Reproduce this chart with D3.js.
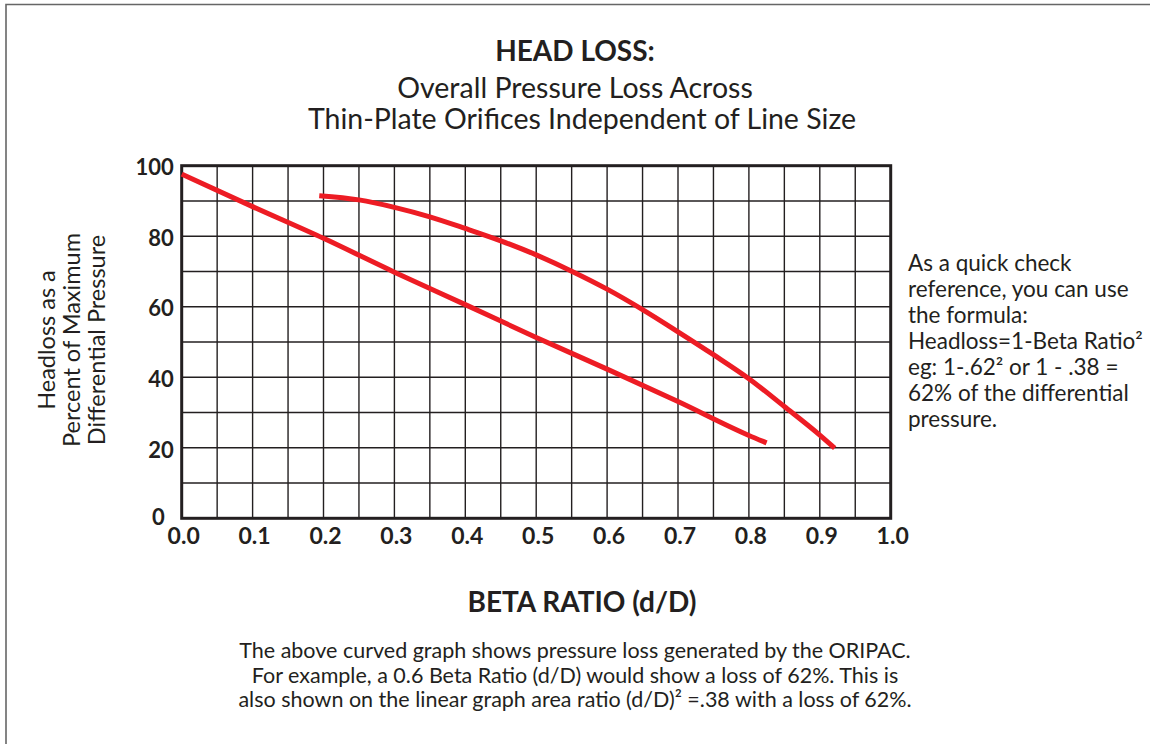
<!DOCTYPE html>
<html><head><meta charset="utf-8">
<script src="https://cdn.jsdelivr.net/npm/d3@7"></script>
<style>
html,body{margin:0;padding:0;background:#fff;}
svg{display:block;font-family:Lato, "Open Sans", sans-serif;}
</style></head>
<body>
<svg id="chart" width="1150" height="744"></svg>
<script>
// ---- data ----
const titleLines = ["HEAD LOSS:", "Overall Pressure Loss Across", "Thin-Plate Orifices Independent of Line Size"];
const xTicks = [0, 0.1, 0.2, 0.3, 0.4, 0.5, 0.6, 0.7, 0.8, 0.9, 1.0];
const yTicks = [0, 20, 40, 60, 80, 100];
const linearBeta = [0, 0.1, 0.2, 0.3, 0.4, 0.5, 0.6, 0.7, 0.8, 0.825];
const linearLoss = [97.6, 88.4, 79.4, 69.8, 60.6, 51.3, 42.3, 33.1, 23.5, 21.4];
const curveBeta = [0.194, 0.25, 0.3, 0.35, 0.4, 0.45, 0.5, 0.55, 0.6, 0.65, 0.7, 0.75, 0.8, 0.85, 0.9, 0.921];
const curveLoss = [91.5, 90.3, 88.2, 85.5, 82.2, 78.7, 74.7, 70.1, 65.0, 59.2, 52.9, 46.4, 39.6, 31.7, 23.6, 19.9];
const yLabelLines = ["Headloss as a", "Percent of Maximum", "Differential Pressure"];
const xLabel = "BETA RATIO (d/D)";
const noteLines = ["As a quick check", "reference, you can use", "the formula:", "Headloss=1-Beta Ratio\u00B2", "eg: 1-.62\u00B2 or 1 - .38 =", "62% of the differential", "pressure."];
const footLines = ["The above curved graph shows pressure loss generated by the ORIPAC.",
  "For example, a 0.6 Beta Ratio (d/D) would show a loss of 62%. This is",
  "also shown on the linear graph area ratio (d/D)\u00B2 =.38 with a loss of 62%."];

// ---- layout ----
const svg = d3.select("#chart");
const ink = "#231f20";
const red = "#ed1c24";
const plot = {left: 181.7, right: 890.7, top: 165.7, bottom: 518.3};

// outer frame
svg.append("path").attr("d", "M6,744 L6,4.5 L1150,4.5")
  .attr("fill", "none").attr("stroke", "#666").attr("stroke-width", 1.6);

const x = d3.scaleLinear().domain([0, 1]).range([plot.left, plot.right]);
const y = d3.scaleLinear().domain([0, 100]).range([plot.bottom, plot.top]);

// title
const title = svg.append("g").attr("text-anchor", "middle").attr("fill", ink);
title.append("text").attr("x", 575).attr("y", 61).attr("font-weight", 700).attr("font-size", 28).text(titleLines[0]);
title.append("text").attr("x", 575).attr("y", 98).attr("font-size", 28.5).text(titleLines[1]);
title.append("text").attr("x", 582).attr("y", 129).attr("font-size", 28.5).text(titleLines[2]);

// grid
const gridX = d3.range(0, 21).map(i => i * 0.05);
const gridY = d3.range(0, 11).map(i => i * 10);
const grid = svg.append("g").attr("stroke", ink).attr("stroke-width", 1.4);
grid.selectAll("line.v").data(gridX).join("line").attr("class", "v")
  .attr("x1", d => x(d)).attr("x2", d => x(d)).attr("y1", plot.top).attr("y2", plot.bottom);
grid.selectAll("line.h").data(gridY).join("line").attr("class", "h")
  .attr("y1", d => y(d)).attr("y2", d => y(d)).attr("x1", plot.left).attr("x2", plot.right);

// border
svg.append("rect").attr("x", plot.left).attr("y", plot.top)
  .attr("width", plot.right - plot.left).attr("height", plot.bottom - plot.top)
  .attr("fill", "none").attr("stroke", ink).attr("stroke-width", 3);

// axes
const xAxis = svg.append("g").attr("transform", `translate(0,${plot.bottom})`)
  .call(d3.axisBottom(x).tickValues(xTicks).tickFormat(d3.format(".1f")).tickSize(0).tickPadding(9));
xAxis.select(".domain").remove();
xAxis.selectAll("text").attr("font-size", 23).attr("font-weight", 700).attr("fill", ink)
  .attr("font-family", "Lato, sans-serif").attr("dx", 1.5);

const yAxis = svg.append("g").attr("transform", `translate(${plot.left},0)`)
  .call(d3.axisLeft(y).tickValues(yTicks).tickSize(0).tickPadding(8));
yAxis.select(".domain").remove();
yAxis.selectAll("text").attr("font-size", 22).attr("font-weight", 700).attr("fill", ink)
  .attr("font-family", "Lato, sans-serif").attr("dy", "0.42em");
yAxis.selectAll(".tick").filter(d => d === 0).select("text").attr("dx", -9).attr("dy", "0.28em");

// curves
const line = d3.line().x(d => x(d[0])).y(d => y(d[1])).curve(d3.curveMonotoneX);
svg.append("path").datum(d3.zip(linearBeta, linearLoss)).attr("d", line)
  .attr("fill", "none").attr("stroke", red).attr("stroke-width", 5);
svg.append("path").datum(d3.zip(curveBeta, curveLoss)).attr("d", line)
  .attr("fill", "none").attr("stroke", red).attr("stroke-width", 5);

// y label
const yl = svg.append("text").attr("transform", "translate(0,340) rotate(-90)")
  .attr("text-anchor", "middle").attr("font-size", 23.5).attr("fill", ink);
yLabelLines.forEach((t, i) => yl.append("tspan").attr("x", 0).attr("y", 55 + i * 25).text(t));

// x label
svg.append("text").attr("x", 582).attr("y", 612).attr("text-anchor", "middle")
  .attr("font-size", 28).attr("font-weight", 700).attr("fill", ink).text(xLabel);

// note
const note = svg.append("text").attr("font-size", 22.5).attr("fill", ink);
noteLines.forEach((t, i) => note.append("tspan").attr("x", 908).attr("y", 271 + i * 26).text(t));

// footer
const foot = svg.append("text").attr("text-anchor", "middle").attr("font-size", 21.5).attr("fill", ink);
footLines.forEach((t, i) => foot.append("tspan").attr("x", 575).attr("y", 658 + i * 24.5).text(t));
</script>
</body></html>
